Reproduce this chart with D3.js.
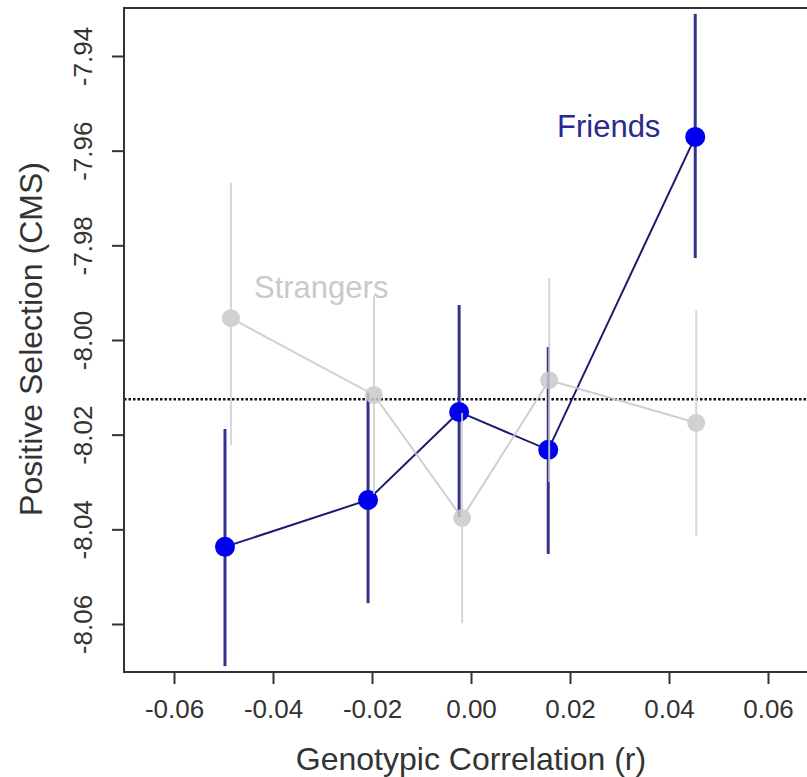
<!DOCTYPE html>
<html>
<head>
<meta charset="utf-8">
<script src="https://cdn.jsdelivr.net/npm/d3@7"></script>
<style>
  body { margin: 0; background: #fff; }
  text { font-family: "Liberation Sans", Arial, sans-serif; }
</style>
</head>
<body>
<div id="chart"></div>
<script>
// values
const xTicks = [-0.06, -0.04, -0.02, 0.00, 0.02, 0.04, 0.06];
const yTicks = [-7.94, -7.96, -7.98, -8.00, -8.02, -8.04, -8.06];

const friendsX = [-0.0497, -0.0208, -0.0024, 0.0156, 0.0453];
const friendsY = [-8.0437, -8.0338, -8.0152, -8.0232, -7.9571];
const friendsLo = [-8.0689, -8.0556, -8.0374, -8.0452, -7.9827];
const friendsHi = [-8.0188, -8.0112, -7.9926, -8.0015, -7.9311];

const strangersX = [-0.0485, -0.0196, -0.0018, 0.0158, 0.0455];
const strangersY = [-7.9954, -8.0116, -8.0376, -8.0085, -8.0175];
const strangersLo = [-8.0222, -8.0325, -8.0598, -8.0300, -8.0414];
const strangersHi = [-7.9668, -7.9907, -8.0154, -7.9869, -7.9937];

const refLine = -8.0125;

const width = 807, height = 777;
const plot = { left: 124, top: 8, right: 807, bottom: 672 };

const svg = d3.select("#chart").append("svg")
    .attr("width", width)
    .attr("height", height);

let x = d3.scaleLinear().domain([-0.06, 0.06]).range([174, 768]);
let y = d3.scaleLinear().domain([-7.94, -8.06]).range([56, 624]);

// R style labels: plain hyphen minus
let fmt = d => d3.format(".2f")(d).replace("\u2212", "-");

// dotted reference line
svg.append("line")
    .attr("x1", plot.left).attr("x2", plot.right)
    .attr("y1", y(refLine)).attr("y2", y(refLine))
    .attr("stroke", "#111").attr("stroke-width", 2.5)
    .attr("stroke-dasharray", "2.5,2");

function drawSeries(xs, ys, lo, hi, opt) {
    let pts = xs.map((v, i) => ({ x: v, y: ys[i], lo: lo[i], hi: hi[i] }));
    let g = svg.append("g").attr("opacity", opt.opacity);
    g.selectAll("line.err").data(pts).enter().append("line")
        .attr("class", "err")
        .attr("x1", d => x(d.x)).attr("x2", d => x(d.x))
        .attr("y1", d => y(d.lo)).attr("y2", d => y(d.hi))
        .attr("stroke", opt.barColor).attr("stroke-width", opt.barWidth);
    g.append("path").datum(pts)
        .attr("fill", "none")
        .attr("stroke", opt.lineColor).attr("stroke-width", 2)
        .attr("d", d3.line().x(d => x(d.x)).y(d => y(d.y)));
    g.selectAll("circle").data(pts).enter().append("circle")
        .attr("cx", d => x(d.x)).attr("cy", d => y(d.y))
        .attr("r", opt.r)
        .attr("fill", opt.pointColor);
}

drawSeries(friendsX, friendsY, friendsLo, friendsHi, {
    barColor: "#33338c", barWidth: 3, lineColor: "#1c1c6e", pointColor: "#0000ee", r: 10, opacity: 1
});
drawSeries(strangersX, strangersY, strangersLo, strangersHi, {
    barColor: "#d0d0d0", barWidth: 2, lineColor: "#c8c8c8", pointColor: "#cacaca", r: 9, opacity: 0.85
});

// series labels
svg.append("text").attr("x", 557).attr("y", 137)
    .attr("font-size", 31).attr("fill", "#2a2a8c").text("Friends");
svg.append("text").attr("x", 254).attr("y", 298)
    .attr("font-size", 31).attr("fill", "#cacaca").text("Strangers");

// frame: left, top, bottom
const axisColor = "#333";
svg.append("path")
    .attr("d", `M${plot.right},${plot.top}H${plot.left}V${plot.bottom}H${plot.right}`)
    .attr("fill", "none").attr("stroke", axisColor).attr("stroke-width", 2);

// x axis
let xAxis = svg.append("g")
    .attr("transform", `translate(0,${plot.bottom})`)
    .call(d3.axisBottom(x).tickValues(xTicks).tickSize(12).tickPadding(16)
        .tickFormat(fmt));
xAxis.select(".domain").remove();
xAxis.selectAll("line").attr("stroke", axisColor).attr("stroke-width", 2);
xAxis.selectAll("text").attr("font-size", 26).attr("fill", "#333")
    .attr("font-family", "Liberation Sans, Arial, sans-serif");

// y axis
let yAxis = svg.append("g")
    .attr("transform", `translate(${plot.left},0)`)
    .call(d3.axisLeft(y).tickValues(yTicks).tickSize(12).tickFormat(fmt));
yAxis.select(".domain").remove();
yAxis.selectAll("line").attr("stroke", axisColor).attr("stroke-width", 2);
yAxis.selectAll("text")
    .attr("font-size", 26).attr("fill", "#333")
    .attr("font-family", "Liberation Sans, Arial, sans-serif")
    .attr("x", null).attr("dy", null)
    .attr("text-anchor", "middle")
    .attr("transform", "translate(-32,0) rotate(-90)");

// axis titles
svg.append("text")
    .attr("x", 471).attr("y", 770)
    .attr("text-anchor", "middle").attr("font-size", 32).attr("fill", "#333")
    .text("Genotypic Correlation (r)");
svg.append("text")
    .attr("transform", `translate(42,339) rotate(-90)`)
    .attr("text-anchor", "middle").attr("font-size", 32).attr("fill", "#333")
    .text("Positive Selection (CMS)");
</script>
</body>
</html>
